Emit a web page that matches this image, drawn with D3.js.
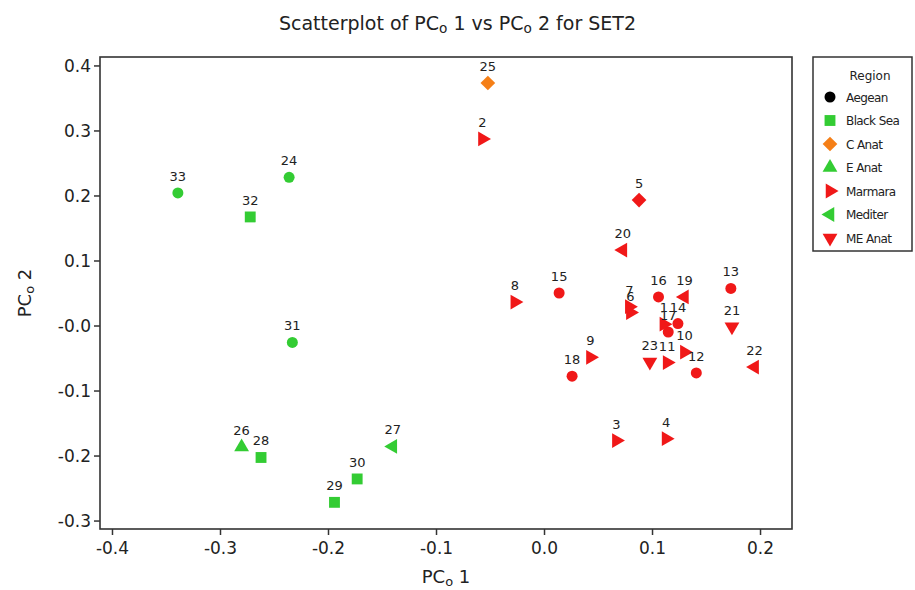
<!DOCTYPE html>
<html>
<head>
<meta charset="utf-8">
<script src="https://cdn.jsdelivr.net/npm/d3@7"></script>
<style>
  body { margin: 0; background: #fff; }
  text { font-family: "DejaVu Sans", sans-serif; fill: #222; }
  .tick text { font-size: 17px; }
  .pt-label { font-size: 13px; }
</style>
</head>
<body>
<svg width="915" height="590"></svg>
<script>
  // data
  var pointIds = [1, 2, 3, 4, 5, 6, 7, 8, 9, 10, 11, 12, 13, 14, 15, 16, 17,
    18, 19, 20, 21, 22, 23, 24, 25, 26, 27, 28, 29, 30, 31, 32, 33];
  var pc1 = [0.111, -0.057, 0.067, 0.113, 0.088, 0.080, 0.079, -0.027, 0.043, 0.130,
    0.114, 0.141, 0.173, 0.124, 0.014, 0.106, 0.115, 0.026, 0.130, 0.073,
    0.174, 0.195, 0.098, -0.236, -0.052, -0.280, -0.140, -0.262, -0.194, -0.173,
    -0.233, -0.272, -0.339];
  var pc2 = [0.002, 0.287, -0.177, -0.174, 0.193, 0.020, 0.029, 0.036, -0.049, -0.041,
    -0.057, -0.073, 0.057, 0.003, 0.050, 0.044, -0.010, -0.078, 0.044, 0.116,
    -0.002, -0.064, -0.056, 0.228, 0.373, -0.187, -0.186, -0.203, -0.272, -0.236,
    -0.026, 0.167, 0.204];
  // region whose symbol each point uses
  var pointRegion = ["Marmara", "Marmara", "Marmara", "Marmara", "CAnat", "Marmara", "Marmara",
    "Marmara", "Marmara", "Marmara", "Marmara", "Aegean", "Aegean", "Aegean", "Aegean", "Aegean",
    "Aegean", "Aegean", "Mediter", "Mediter", "MEAnat", "Mediter", "MEAnat", "Aegean", "CAnat",
    "EAnat", "Mediter", "BlackSea", "BlackSea", "BlackSea", "Aegean", "BlackSea", "Aegean"];
  // colour group of each point
  var pointGroup = ["East", "East", "East", "East", "East", "East", "East", "East", "East", "East",
    "East", "East", "East", "East", "East", "East", "East", "East", "East", "East", "East", "East",
    "East", "West", "Centre", "West", "West", "West", "West", "West", "West", "West", "West"];

  var regions = ["Aegean", "BlackSea", "CAnat", "EAnat", "Marmara", "Mediter", "MEAnat"];
  var regionLabels = ["Aegean", "Black Sea", "C Anat", "E Anat", "Marmara", "Mediter", "ME Anat"];
  var regionColours = ["#000000", "#33cc33", "#f57f17", "#33cc33", "#f01818", "#33cc33", "#f01818"];
  var groups = ["East", "West", "Centre"];
  var groupColours = ["#f01818", "#33cc33", "#f57f17"];

  var xTicks = [-0.4, -0.3, -0.2, -0.1, 0.0, 0.1, 0.2];
  var xTickLabels = ["-0.4", "-0.3", "-0.2", "-0.1", "0.0", "0.1", "0.2"];
  var yTicks = [0.4, 0.3, 0.2, 0.1, 0.0, -0.1, -0.2, -0.3];
  var yTickLabels = ["0.4", "0.3", "0.2", "0.1", "-0.0", "-0.1", "-0.2", "-0.3"];

  var data = pointIds.map(function (id, i) {
    return { id: id, x: pc1[i], y: pc2[i], region: pointRegion[i], group: pointGroup[i] };
  });

  var svg = d3.select("svg");
  var margin = { top: 57, right: 123, left: 100, bottom: 61 };
  var width = +svg.attr("width");
  var height = +svg.attr("height");
  var innerWidth = width - margin.left - margin.right;
  var innerHeight = height - margin.top - margin.bottom;

  //scales
  var xScale = d3.scaleLinear().domain([-0.4111, 0.2296]).range([0, innerWidth]);
  var yScale = d3.scaleLinear().domain([-0.313, 0.413]).range([innerHeight, 0]);
  var colour = d3.scaleOrdinal().domain(groups).range(groupColours);
  var legendColour = d3.scaleOrdinal().domain(regions).range(regionColours);

  // symbol for each region: [d3 type, rotation, area]
  var shapes = {
    Aegean: [d3.symbolCircle, 0, 95],
    BlackSea: [d3.symbolSquare, 0, 118],
    CAnat: [d3.symbolSquare, 45, 108],
    EAnat: [d3.symbolTriangle, 0, 95],
    Marmara: [d3.symbolTriangle, 90, 95],
    Mediter: [d3.symbolTriangle, -90, 95],
    MEAnat: [d3.symbolTriangle, 180, 95]
  };
  var symbolPath = function (region) {
    var s = shapes[region];
    return d3.symbol().type(s[0]).size(s[2])();
  };

  var g = svg.append("g")
    .attr("transform", "translate(" + margin.left + "," + margin.top + ")");

  // axes
  var xAxis = d3.axisBottom(xScale).tickValues(xTicks).tickSize(6).tickPadding(6)
    .tickFormat(function (d, i) { return xTickLabels[i]; });
  var yAxis = d3.axisLeft(yScale).tickValues(yTicks).tickSize(6).tickPadding(3)
    .tickFormat(function (d, i) { return yTickLabels[i]; });

  var xAxisGroup = g.append("g")
    .attr("transform", "translate(0," + innerHeight + ")")
    .call(xAxis);
  var yAxisGroup = g.append("g").call(yAxis);
  [xAxisGroup, yAxisGroup].forEach(function (ax) {
    ax.select(".domain").remove();
    ax.selectAll(".tick line").attr("stroke", "#333").attr("stroke-width", 1.5);
    ax.selectAll(".tick text").attr("fill", "#222").style("font-family", "DejaVu Sans");
  });
  xAxisGroup.selectAll(".tick text").attr("dy", "0.75em");
  yAxisGroup.selectAll(".tick text").attr("dy", "0.36em");

  // frame
  g.append("rect")
    .attr("width", innerWidth)
    .attr("height", innerHeight)
    .attr("fill", "none")
    .attr("stroke", "#333")
    .attr("stroke-width", 1.6);

  // points
  g.selectAll(".pt")
    .data(data)
    .enter().append("path")
    .attr("class", "pt")
    .attr("d", function (d) { return symbolPath(d.region); })
    .attr("transform", function (d) {
      return "translate(" + xScale(d.x) + "," + yScale(d.y) + ") rotate(" + shapes[d.region][1] + ")";
    })
    .attr("fill", function (d) { return colour(d.group); });

  g.selectAll(".pt-label")
    .data(data)
    .enter().append("text")
    .attr("class", "pt-label")
    .attr("x", function (d) { return xScale(d.x); })
    .attr("y", function (d) { return yScale(d.y) - 12; })
    .attr("text-anchor", "middle")
    .text(function (d) { return d.id; });

  // title and axis labels
  var pcoLabel = function (sel, n) {
    sel.append("tspan").text("PC");
    sel.append("tspan").text("o").attr("font-size", "0.72em").attr("dy", 3);
    sel.append("tspan").text(" " + n).attr("dy", -3);
  };

  var title = svg.append("text")
    .attr("x", width / 2)
    .attr("y", 30)
    .attr("text-anchor", "middle")
    .style("font-size", "19px");
  title.append("tspan").text("Scatterplot of ");
  pcoLabel(title, "1");
  title.append("tspan").text(" vs ");
  pcoLabel(title, "2");
  title.append("tspan").text(" for SET2");

  var xLabel = svg.append("text")
    .attr("x", margin.left + innerWidth / 2)
    .attr("y", 583)
    .attr("text-anchor", "middle")
    .style("font-size", "18px");
  pcoLabel(xLabel, "1");

  var yLabel = svg.append("text")
    .attr("transform", "translate(31," + (margin.top + innerHeight / 2) + ") rotate(-90)")
    .attr("text-anchor", "middle")
    .style("font-size", "18px");
  pcoLabel(yLabel, "2");

  // legend
  var legend = svg.append("g").attr("transform", "translate(813,57)");
  legend.append("rect")
    .attr("width", 99)
    .attr("height", 194)
    .attr("fill", "#fff")
    .attr("stroke", "#333")
    .attr("stroke-width", 1.5);
  legend.append("text")
    .attr("x", 57)
    .attr("y", 23)
    .attr("text-anchor", "middle")
    .style("font-size", "12px")
    .text("Region");

  var item = legend.selectAll(".item")
    .data(regions)
    .enter().append("g")
    .attr("class", "item")
    .attr("transform", function (d, i) { return "translate(0," + (40 + i * 23.5) + ")"; });
  item.append("path")
    .attr("d", function (d) { return symbolPath(d); })
    .attr("transform", function (d) { return "translate(17,0) rotate(" + shapes[d][1] + ")"; })
    .attr("fill", function (d) { return legendColour(d); });
  item.append("text")
    .attr("x", 33)
    .attr("y", 4.5)
    .style("font-size", "12px")
    .style("letter-spacing", "-0.6px")
    .text(function (d, i) { return regionLabels[i]; });
</script>
</body>
</html>
